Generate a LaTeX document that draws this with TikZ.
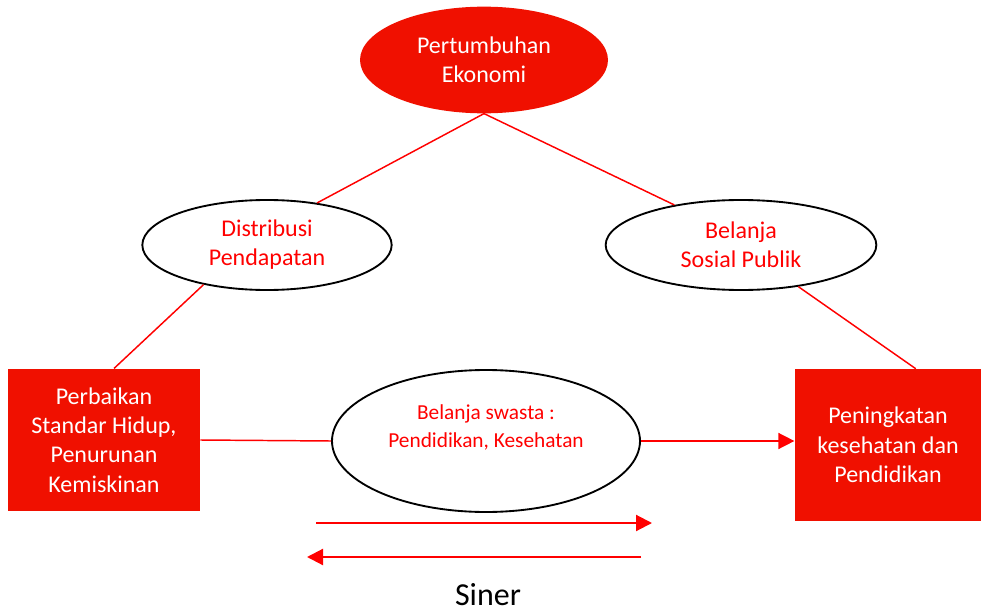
\documentclass[tikz,border=0pt]{standalone}
\usepackage{fontspec}
\setmainfont{Carlito}
\usetikzlibrary{%
	positioning,
	calc,
	arrows.meta,
	shapes.geometric
}
\definecolor{boxred}{RGB}{240,16,0}
\definecolor{linered}{RGB}{255,0,0}

\begin{document}
\begin{tikzpicture}[x=0.75pt,y=-0.75pt,
		SEllipse/.style={draw=black,line width=1.4pt,shape=ellipse,inner sep=0pt,align=center,text=linered,font=\fontsize{18}{22}\selectfont},
		SRoot/.style={fill=boxred,shape=ellipse,inner sep=0pt,align=center,text=white,font=\fontsize{18}{22}\selectfont},
		SBox/.style={fill=boxred,shape=rectangle,inner sep=0pt,align=center,text=white,font=\fontsize{18}{22}\selectfont},
		link/.style={draw=linered,line width=1.1pt},
		flow/.style={draw=linered,line width=1.6pt,-{Triangle[length=12pt,width=12pt]}}
	]
	\useasboundingbox (0,0) rectangle (985,613);
	
		%Ellipses
		\node (pertumbuhan) [SRoot,minimum width=186pt,minimum height=80pt] at (484,60) {Pertumbuhan\\Ekonomi};
		\node (distribusi) [SEllipse,minimum width=187pt,minimum height=67.5pt,text height=34pt] at (267,245) {Distribusi\\Pendapatan};
		\node (belanja-sosial) [SEllipse,minimum width=203pt,minimum height=67.5pt] at (741,245) {Belanja\\Sosial Publik};
		\node (belanja-swasta) [SEllipse,minimum width=231pt,minimum height=106.5pt,text depth=22pt,font=\fontsize{16}{21}\selectfont] at (486,441) {Belanja swasta :\\Pendidikan, Kesehatan};
		
		%Boxes
		\node (perbaikan) [SBox,minimum width=144pt,minimum height=107pt] at (104,440) {Perbaikan\\Standar Hidup,\\Penurunan\\Kemiskinan};
		\node (peningkatan) [SBox,minimum width=140pt,minimum height=114pt] at (888,445) {Peningkatan\\kesehatan dan\\Pendidikan};
		
		\draw [link] (pertumbuhan.south) -- (distribusi.40);
		\draw [link] (pertumbuhan.south) -- (belanja-sosial.149);
		\draw [link] (distribusi.212) -- (perbaikan.82);
		\draw [link] (belanja-sosial.324) -- (peningkatan.70);
		\draw [link] (perbaikan.east) -- (belanja-swasta.west);
		\draw [flow,line width=1.1pt] (belanja-swasta.east) -- (belanja-swasta.east -| peningkatan.west);
		
		%Siner
		\node (siner) [font=\fontsize{24}{28}\selectfont] at (488,595) {Siner};
		\coordinate (s1-start) at (316,523);
		\coordinate (s1-end) at (652,523);
		\coordinate (s2-start) at (641,557);
		\coordinate (s2-end) at (307,557);
		\draw [flow] (s1-start) -- (s1-end);
		\draw [flow] (s2-start) -- (s2-end);
		
\end{tikzpicture}
\end{document}
